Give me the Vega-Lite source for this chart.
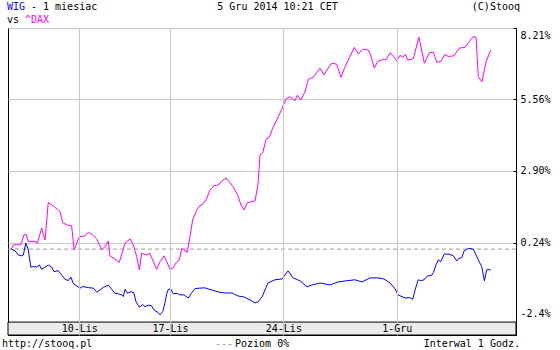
{
  "$schema": "https://vega.github.io/schema/vega-lite/v6.json",
  "width": 508,
  "height": 307,
  "autosize": {"type": "none"},
  "padding": {"left": 8, "top": 28, "right": 44, "bottom": 15},
  "background": "white",
  "config": {
    "view": {"stroke": "black", "strokeWidth": 1},
    "font": "DejaVu Sans Mono",
    "text": {"font": "DejaVu Sans Mono", "fontSize": 10}
  },
  "datasets": {
    "series": [
      {"s":"^DAX","t":0,"v":0},{"s":"^DAX","t":0.09,"v":0.16},{"s":"^DAX","t":0.42,"v":0.16},{"s":"^DAX","t":0.56,"v":0.53},{"s":"^DAX","t":0.65,"v":0.55},{"s":"^DAX","t":0.75,"v":0.28},{"s":"^DAX","t":0.9,"v":0.28},{"s":"^DAX","t":1.05,"v":0.28},{"s":"^DAX","t":1.15,"v":0.22},{"s":"^DAX","t":1.34,"v":0.78},{"s":"^DAX","t":1.41,"v":0.53},{"s":"^DAX","t":1.49,"v":0.34},{"s":"^DAX","t":1.63,"v":1.73},{"s":"^DAX","t":1.85,"v":1.6},{"s":"^DAX","t":2.07,"v":1.45},{"s":"^DAX","t":2.15,"v":1.39},{"s":"^DAX","t":2.27,"v":0.98},{"s":"^DAX","t":2.44,"v":0.9},{"s":"^DAX","t":2.66,"v":0.86},{"s":"^DAX","t":2.71,"v":0.46},{"s":"^DAX","t":2.77,"v":-0.03},{"s":"^DAX","t":2.89,"v":0.22},{"s":"^DAX","t":3.0,"v":0.46},{"s":"^DAX","t":3.25,"v":0.49},{"s":"^DAX","t":3.4,"v":0.63},{"s":"^DAX","t":3.55,"v":0.55},{"s":"^DAX","t":3.77,"v":0.37},{"s":"^DAX","t":3.99,"v":-0.03},{"s":"^DAX","t":4.13,"v":0.09},{"s":"^DAX","t":4.28,"v":0.3},{"s":"^DAX","t":4.35,"v":-0.25},{"s":"^DAX","t":4.57,"v":-0.37},{"s":"^DAX","t":4.76,"v":-0.5},{"s":"^DAX","t":5.02,"v":0.22},{"s":"^DAX","t":5.24,"v":0.38},{"s":"^DAX","t":5.38,"v":0.16},{"s":"^DAX","t":5.53,"v":-0.28},{"s":"^DAX","t":5.65,"v":-0.77},{"s":"^DAX","t":5.75,"v":-0.15},{"s":"^DAX","t":5.97,"v":-0.22},{"s":"^DAX","t":6.09,"v":-0.15},{"s":"^DAX","t":6.24,"v":-0.4},{"s":"^DAX","t":6.41,"v":-0.75},{"s":"^DAX","t":6.56,"v":-0.47},{"s":"^DAX","t":6.74,"v":-0.25},{"s":"^DAX","t":6.86,"v":-0.47},{"s":"^DAX","t":7.0,"v":-0.75},{"s":"^DAX","t":7.12,"v":-0.71},{"s":"^DAX","t":7.3,"v":-0.47},{"s":"^DAX","t":7.41,"v":-0.4},{"s":"^DAX","t":7.52,"v":0.03},{"s":"^DAX","t":7.71,"v":-0.09},{"s":"^DAX","t":7.76,"v":-0.13},{"s":"^DAX","t":7.88,"v":0.46},{"s":"^DAX","t":8.0,"v":1.08},{"s":"^DAX","t":8.15,"v":1.39},{"s":"^DAX","t":8.29,"v":1.6},{"s":"^DAX","t":8.41,"v":1.64},{"s":"^DAX","t":8.59,"v":1.83},{"s":"^DAX","t":8.77,"v":2.2},{"s":"^DAX","t":8.94,"v":2.35},{"s":"^DAX","t":9.12,"v":2.38},{"s":"^DAX","t":9.29,"v":2.53},{"s":"^DAX","t":9.47,"v":2.64},{"s":"^DAX","t":9.65,"v":2.46},{"s":"^DAX","t":9.82,"v":2.27},{"s":"^DAX","t":10.0,"v":1.97},{"s":"^DAX","t":10.13,"v":1.64},{"s":"^DAX","t":10.27,"v":1.45},{"s":"^DAX","t":10.4,"v":1.71},{"s":"^DAX","t":10.57,"v":1.75},{"s":"^DAX","t":10.75,"v":1.79},{"s":"^DAX","t":10.88,"v":2.38},{"s":"^DAX","t":10.97,"v":3.5},{"s":"^DAX","t":11.09,"v":3.58},{"s":"^DAX","t":11.24,"v":4.08},{"s":"^DAX","t":11.38,"v":4.15},{"s":"^DAX","t":11.53,"v":4.49},{"s":"^DAX","t":11.71,"v":4.8},{"s":"^DAX","t":11.93,"v":5.19},{"s":"^DAX","t":12.12,"v":5.58},{"s":"^DAX","t":12.29,"v":5.66},{"s":"^DAX","t":12.51,"v":5.51},{"s":"^DAX","t":12.62,"v":5.71},{"s":"^DAX","t":12.77,"v":5.54},{"s":"^DAX","t":12.96,"v":5.85},{"s":"^DAX","t":13.1,"v":6.31},{"s":"^DAX","t":13.32,"v":6.38},{"s":"^DAX","t":13.62,"v":6.72},{"s":"^DAX","t":13.79,"v":6.47},{"s":"^DAX","t":13.98,"v":6.72},{"s":"^DAX","t":14.13,"v":6.9},{"s":"^DAX","t":14.35,"v":6.87},{"s":"^DAX","t":14.54,"v":6.38},{"s":"^DAX","t":14.72,"v":6.77},{"s":"^DAX","t":14.94,"v":7.15},{"s":"^DAX","t":15.13,"v":7.49},{"s":"^DAX","t":15.31,"v":7.25},{"s":"^DAX","t":15.5,"v":7.42},{"s":"^DAX","t":15.75,"v":7.39},{"s":"^DAX","t":15.85,"v":7.21},{"s":"^DAX","t":16.01,"v":6.72},{"s":"^DAX","t":16.16,"v":6.96},{"s":"^DAX","t":16.41,"v":7.05},{"s":"^DAX","t":16.53,"v":7.02},{"s":"^DAX","t":16.71,"v":7.29},{"s":"^DAX","t":16.85,"v":7.17},{"s":"^DAX","t":17.0,"v":6.99},{"s":"^DAX","t":17.15,"v":7.2},{"s":"^DAX","t":17.27,"v":7.11},{"s":"^DAX","t":17.38,"v":7.23},{"s":"^DAX","t":17.49,"v":7.02},{"s":"^DAX","t":17.73,"v":7.07},{"s":"^DAX","t":17.98,"v":7.87},{"s":"^DAX","t":18.22,"v":6.9},{"s":"^DAX","t":18.44,"v":7.29},{"s":"^DAX","t":18.62,"v":7.31},{"s":"^DAX","t":18.77,"v":6.94},{"s":"^DAX","t":18.94,"v":6.96},{"s":"^DAX","t":19.13,"v":7.23},{"s":"^DAX","t":19.28,"v":7.15},{"s":"^DAX","t":19.53,"v":7.18},{"s":"^DAX","t":19.76,"v":7.46},{"s":"^DAX","t":20.01,"v":7.49},{"s":"^DAX","t":20.2,"v":7.7},{"s":"^DAX","t":20.38,"v":7.89},{"s":"^DAX","t":20.5,"v":7.87},{"s":"^DAX","t":20.6,"v":6.4},{"s":"^DAX","t":20.76,"v":6.21},{"s":"^DAX","t":20.94,"v":6.95},{"s":"^DAX","t":21.15,"v":7.39},
      {"s":"WIG","t":0,"v":0},{"s":"WIG","t":0.16,"v":-0.06},{"s":"WIG","t":0.31,"v":-0.22},{"s":"WIG","t":0.46,"v":-0.25},{"s":"WIG","t":0.53,"v":-0.22},{"s":"WIG","t":0.64,"v":0.22},{"s":"WIG","t":0.75,"v":-0.03},{"s":"WIG","t":0.86,"v":-0.67},{"s":"WIG","t":0.97,"v":-0.65},{"s":"WIG","t":1.12,"v":-0.67},{"s":"WIG","t":1.24,"v":-0.59},{"s":"WIG","t":1.34,"v":-0.75},{"s":"WIG","t":1.49,"v":-0.67},{"s":"WIG","t":1.63,"v":-0.59},{"s":"WIG","t":1.78,"v":-0.67},{"s":"WIG","t":1.88,"v":-0.84},{"s":"WIG","t":2.07,"v":-0.8},{"s":"WIG","t":2.22,"v":-0.96},{"s":"WIG","t":2.37,"v":-1.12},{"s":"WIG","t":2.51,"v":-1.17},{"s":"WIG","t":2.63,"v":-1.04},{"s":"WIG","t":2.74,"v":-1.29},{"s":"WIG","t":2.89,"v":-1.37},{"s":"WIG","t":3.03,"v":-1.45},{"s":"WIG","t":3.15,"v":-1.39},{"s":"WIG","t":3.4,"v":-1.43},{"s":"WIG","t":3.62,"v":-1.45},{"s":"WIG","t":3.77,"v":-1.6},{"s":"WIG","t":3.91,"v":-1.52},{"s":"WIG","t":4.06,"v":-1.42},{"s":"WIG","t":4.28,"v":-1.34},{"s":"WIG","t":4.39,"v":-1.45},{"s":"WIG","t":4.57,"v":-1.64},{"s":"WIG","t":4.72,"v":-1.66},{"s":"WIG","t":4.87,"v":-1.7},{"s":"WIG","t":4.94,"v":-1.76},{"s":"WIG","t":5.02,"v":-1.49},{"s":"WIG","t":5.12,"v":-1.64},{"s":"WIG","t":5.28,"v":-1.58},{"s":"WIG","t":5.41,"v":-1.64},{"s":"WIG","t":5.5,"v":-1.95},{"s":"WIG","t":5.65,"v":-2.16},{"s":"WIG","t":5.8,"v":-2.06},{"s":"WIG","t":5.9,"v":-2.14},{"s":"WIG","t":6.04,"v":-2.08},{"s":"WIG","t":6.19,"v":-2.11},{"s":"WIG","t":6.3,"v":-2.26},{"s":"WIG","t":6.48,"v":-2.36},{"s":"WIG","t":6.56,"v":-2.44},{"s":"WIG","t":6.68,"v":-2.32},{"s":"WIG","t":6.78,"v":-1.99},{"s":"WIG","t":6.86,"v":-1.64},{"s":"WIG","t":6.93,"v":-1.49},{"s":"WIG","t":7.03,"v":-1.49},{"s":"WIG","t":7.15,"v":-1.66},{"s":"WIG","t":7.3,"v":-1.64},{"s":"WIG","t":7.44,"v":-1.7},{"s":"WIG","t":7.62,"v":-1.7},{"s":"WIG","t":7.81,"v":-1.82},{"s":"WIG","t":7.96,"v":-1.62},{"s":"WIG","t":8.1,"v":-1.47},{"s":"WIG","t":8.29,"v":-1.45},{"s":"WIG","t":8.54,"v":-1.44},{"s":"WIG","t":8.85,"v":-1.52},{"s":"WIG","t":9.12,"v":-1.59},{"s":"WIG","t":9.43,"v":-1.63},{"s":"WIG","t":9.74,"v":-1.63},{"s":"WIG","t":10.0,"v":-1.74},{"s":"WIG","t":10.27,"v":-1.78},{"s":"WIG","t":10.53,"v":-1.89},{"s":"WIG","t":10.75,"v":-2.0},{"s":"WIG","t":10.88,"v":-1.96},{"s":"WIG","t":11.06,"v":-1.78},{"s":"WIG","t":11.32,"v":-1.26},{"s":"WIG","t":11.63,"v":-1.14},{"s":"WIG","t":11.94,"v":-1.11},{"s":"WIG","t":12.21,"v":-0.81},{"s":"WIG","t":12.43,"v":-1.07},{"s":"WIG","t":12.74,"v":-1.18},{"s":"WIG","t":13.04,"v":-1.4},{"s":"WIG","t":13.27,"v":-1.33},{"s":"WIG","t":13.62,"v":-1.26},{"s":"WIG","t":14.06,"v":-1.33},{"s":"WIG","t":14.41,"v":-1.22},{"s":"WIG","t":14.76,"v":-1.18},{"s":"WIG","t":15.16,"v":-1.14},{"s":"WIG","t":15.47,"v":-1.22},{"s":"WIG","t":15.82,"v":-1.07},{"s":"WIG","t":16.18,"v":-1.07},{"s":"WIG","t":16.44,"v":-1.11},{"s":"WIG","t":16.71,"v":-1.26},{"s":"WIG","t":16.93,"v":-1.48},{"s":"WIG","t":17.06,"v":-1.7},{"s":"WIG","t":17.37,"v":-1.82},{"s":"WIG","t":17.56,"v":-1.8},{"s":"WIG","t":17.71,"v":-1.86},{"s":"WIG","t":17.81,"v":-1.52},{"s":"WIG","t":17.95,"v":-1.14},{"s":"WIG","t":18.06,"v":-1.17},{"s":"WIG","t":18.21,"v":-1.14},{"s":"WIG","t":18.35,"v":-1.0},{"s":"WIG","t":18.55,"v":-0.97},{"s":"WIG","t":18.62,"v":-0.87},{"s":"WIG","t":18.73,"v":-0.59},{"s":"WIG","t":18.84,"v":-0.4},{"s":"WIG","t":18.94,"v":-0.47},{"s":"WIG","t":19.1,"v":-0.18},{"s":"WIG","t":19.31,"v":-0.19},{"s":"WIG","t":19.5,"v":-0.25},{"s":"WIG","t":19.65,"v":-0.44},{"s":"WIG","t":19.75,"v":-0.34},{"s":"WIG","t":19.87,"v":-0.32},{"s":"WIG","t":19.98,"v":-0.06},{"s":"WIG","t":20.13,"v":0.01},{"s":"WIG","t":20.23,"v":0.03},{"s":"WIG","t":20.38,"v":-0.01},{"s":"WIG","t":20.5,"v":-0.22},{"s":"WIG","t":20.64,"v":-0.47},{"s":"WIG","t":20.75,"v":-0.65},{"s":"WIG","t":20.87,"v":-1.18},{"s":"WIG","t":20.97,"v":-0.77},{"s":"WIG","t":21.04,"v":-0.75},{"s":"WIG","t":21.15,"v":-0.78}
    ]
  },
  "layer": [
    {
      "data": {"values": [{}]},
      "mark": {"type": "rect", "fill": "#ebebeb", "stroke": "black", "strokeWidth": 1},
      "encoding": {
        "x": {"datum": -0.146, "type": "quantitative", "scale": {"domain": [-0.146, 22.263], "nice": false, "zero": false}},
        "x2": {"datum": 22.263},
        "y": {"datum": -3.19, "type": "quantitative", "scale": {"domain": [-3.19, 8.21], "nice": false, "zero": false}},
        "y2": {"datum": -2.71}
      }
    },
    {
      "data": {"values": [{}]},
      "mark": {"type": "rule", "stroke": "#999999", "strokeWidth": 1, "strokeDash": [4, 3]},
      "encoding": {
        "y": {"datum": 0, "type": "quantitative", "scale": {"domain": [-3.19, 8.21], "nice": false, "zero": false}}
      }
    },
    {
      "data": {"name": "series"},
      "mark": {"type": "line", "strokeWidth": 1, "interpolate": "linear"},
      "encoding": {
        "x": {
          "field": "t", "type": "quantitative",
          "scale": {"domain": [-0.146, 22.263], "nice": false, "zero": false},
          "axis": {
            "title": null, "orient": "bottom", "values": [3, 7, 12, 17],
            "labelExpr": "datum.value == 3 ? '10-Lis' : datum.value == 7 ? '17-Lis' : datum.value == 12 ? '24-Lis' : '1-Gru'",
            "grid": true, "gridColor": "#c8c8c8", "gridOpacity": 1, "gridWidth": 1,
            "domain": false, "ticks": false,
            "labelPadding": -12, "labelFont": "DejaVu Sans Mono", "labelFontSize": 10, "labelColor": "black",
            "labelBaseline": "top", "labelFlush": false, "zindex": 1
          }
        },
        "y": {
          "field": "v", "type": "quantitative",
          "scale": {"domain": [-3.19, 8.21], "nice": false, "zero": false},
          "axis": {
            "title": null, "orient": "right", "values": [8.21, 5.56, 2.9, 0.24, -2.4],
            "labelExpr": "datum.value == -2.4 ? '-2.4%' : format(datum.value, '.2f') + '%'",
            "grid": true,
            "gridColor": {"condition": {"test": "datum.value < -2", "value": "transparent"}, "value": "#c8c8c8"},
            "gridOpacity": 1, "gridWidth": 1,
            "domain": true, "domainColor": "black", "domainWidth": 1,
            "ticks": true,
            "tickColor": {"condition": {"test": "datum.value < -2", "value": "transparent"}, "value": "black"},
            "tickSize": -3, "tickWidth": 1,
            "labelPadding": 7, "labelFont": "DejaVu Sans Mono", "labelFontSize": 10, "labelColor": "black",
            "labelFlush": true, "labelFlushOffset": -2, "labelOverlap": false
          }
        },
        "color": {
          "field": "s", "type": "nominal",
          "scale": {"domain": ["^DAX", "WIG"], "range": ["#ff00ff", "#0000ff"]},
          "legend": null
        }
      }
    },
    {
      "data": {"values": [{}]},
      "layer": [
        {"mark": {"type": "text", "text": "WIG", "align": "left", "baseline": "middle", "dx": -1, "dy": -21, "fill": "#0000ff"}},
        {"mark": {"type": "text", "text": "- 1 miesiac", "align": "left", "baseline": "middle", "dx": 23, "dy": -21, "fill": "black"}},
        {"mark": {"type": "text", "text": "vs", "align": "left", "baseline": "middle", "dx": -1, "dy": -8, "fill": "black"}},
        {"mark": {"type": "text", "text": "^DAX", "align": "left", "baseline": "middle", "dx": 17, "dy": -8, "fill": "#ff00ff"}},
        {"mark": {"type": "text", "text": "5 Gru 2014 10:21 CET", "align": "center", "baseline": "middle", "dx": 269.5, "dy": -21, "fill": "black"}}
      ],
      "encoding": {
        "x": {"datum": -0.146, "type": "quantitative", "scale": {"domain": [-0.146, 22.263], "nice": false, "zero": false}},
        "y": {"datum": 8.21, "type": "quantitative", "scale": {"domain": [-3.19, 8.21], "nice": false, "zero": false}}
      }
    },
    {
      "data": {"values": [{}]},
      "layer": [
        {"mark": {"type": "text", "text": "(C)Stooq", "align": "right", "baseline": "middle", "dx": 4, "dy": -21, "fill": "black"}}
      ],
      "encoding": {
        "x": {"datum": 22.263, "type": "quantitative", "scale": {"domain": [-0.146, 22.263], "nice": false, "zero": false}},
        "y": {"datum": 8.21, "type": "quantitative", "scale": {"domain": [-3.19, 8.21], "nice": false, "zero": false}}
      }
    },
    {
      "data": {"values": [{}]},
      "layer": [
        {"mark": {"type": "text", "text": "http://stooq.pl", "align": "left", "baseline": "middle", "dx": -6, "dy": 9, "fill": "black"}},
        {"mark": {"type": "text", "text": "---", "align": "left", "baseline": "middle", "dx": 207, "dy": 9, "fill": "#999999"}},
        {"mark": {"type": "text", "text": "Poziom 0%", "align": "left", "baseline": "middle", "dx": 227, "dy": 9, "fill": "black"}}
      ],
      "encoding": {
        "x": {"datum": -0.146, "type": "quantitative", "scale": {"domain": [-0.146, 22.263], "nice": false, "zero": false}},
        "y": {"datum": -3.19, "type": "quantitative", "scale": {"domain": [-3.19, 8.21], "nice": false, "zero": false}}
      }
    },
    {
      "data": {"values": [{}]},
      "layer": [
        {"mark": {"type": "text", "text": "Interwal 1 Godz.", "align": "right", "baseline": "middle", "dx": 4, "dy": 9, "fill": "black"}}
      ],
      "encoding": {
        "x": {"datum": 22.263, "type": "quantitative", "scale": {"domain": [-0.146, 22.263], "nice": false, "zero": false}},
        "y": {"datum": -3.19, "type": "quantitative", "scale": {"domain": [-3.19, 8.21], "nice": false, "zero": false}}
      }
    }
  ]
}
